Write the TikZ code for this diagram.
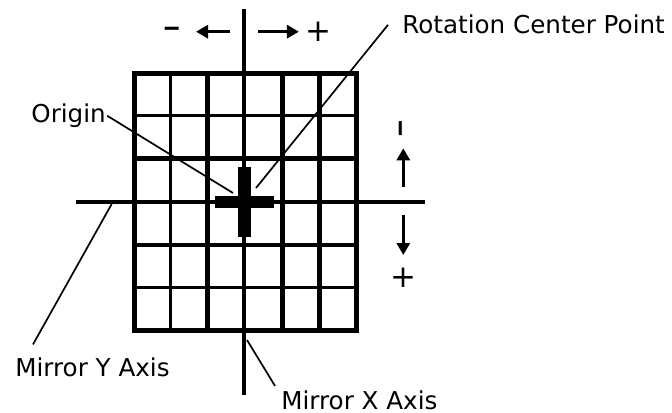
\documentclass[tikz,border=0pt]{standalone}
\usepackage{fontspec}
\usepackage{graphicx}
\setmainfont{DejaVu Sans}
\usetikzlibrary{arrows.meta,calc}
\tikzset{
    lbl/.style={inner sep=0pt, font=\fontsize{12.3}{14}\selectfont},
    sign/.style={inner sep=0pt, font=\fontsize{12.3}{14}\selectfont\bfseries},
    plussign/.style={inner sep=0pt, font=\fontsize{15.5}{17}\selectfont},
    leader/.style={line width=0.85pt},
    dirarrow/.style={line width=1.5pt, -{Triangle[length=6pt,width=6.5pt]}},
}
\begin{document}
\begin{tikzpicture}[x=0.5pt,y=-0.5pt]
    \useasboundingbox (0,0) rectangle (672,412);
    % grid
    \foreach \x/\w in {170.3/1.5pt, 207.3/2.5pt, 282.7/2.5pt, 319.3/2.5pt}
        \draw[line width=\w] (\x,73.3) -- (\x,330.5);
    \foreach \y/\w in {115.7/1.5pt, 158.3/2.5pt, 245/2pt, 287.7/1.5pt}
        \draw[line width=\w] (134.5,\y) -- (356.5,\y);
    \draw[line width=2.75pt] (134.5,73.3) rectangle (356.5,330.5);
    % mirror axes
    \draw[line width=2.3pt] (244,9) -- (244,395);
    \draw[line width=2pt] (76,202.3) -- (425,202.3);
    % rotation center cross
    \draw[line width=6pt] (215,201.5) -- (274,201.5);
    \draw[line width=6.5pt] (244,167.3) -- (244,237.3);
    % direction marks
    \node[sign] (minusx) at (171.7,31.7) {\raisebox{-0.27em}{\scalebox{1.45}[1]{–}}};
    \node[plussign] (plusx) at (318.3,31.7) {+};
    \draw[dirarrow] (230,31.7) -- ([xshift=7.5pt]minusx.east);
    \draw[dirarrow] (258.3,31.7) -- ([xshift=-3pt]plusx.west);
    \node[sign, rotate=90] (minusy) at (403.3,128.3) {\raisebox{-0.27em}{\scalebox{1.45}[1]{–}}};
    \node[plussign] (plusy) at (403.3,277.3) {+};
    \draw[dirarrow] (403.3,187) -- (403.3,148.3);
    \draw[dirarrow] (403.3,215) -- (403.3,255);
    % labels
    \node[lbl, anchor=base west] (origin) at (31,122.5) {Origin};
    \node[lbl, anchor=base west] (rotcenter) at (402,33) {Rotation Center Point};
    \node[lbl, anchor=base west] (mirrory) at (15,376.5) {Mirror Y Axis};
    \node[lbl, anchor=base west] (mirrorx) at (281,409) {Mirror X Axis};
    \coordinate (originpt) at (233,193);
    \coordinate (rotpt) at (256,188);
    \coordinate (mirrorypt) at (111.7,204);
    \coordinate (mirrorxpt) at (247,340);
    \draw[leader] ([xshift=0.5pt]origin.east) -- (originpt);
    \draw[leader] ($(rotcenter.west)+(-14,1)$) -- (rotpt);
    \draw[leader] ($(mirrory.north west)+(18,-13)$) -- (mirrorypt);
    \draw[leader] ($(mirrorx.north west)+(-6,-4)$) -- (mirrorxpt);
\end{tikzpicture}
\end{document}
